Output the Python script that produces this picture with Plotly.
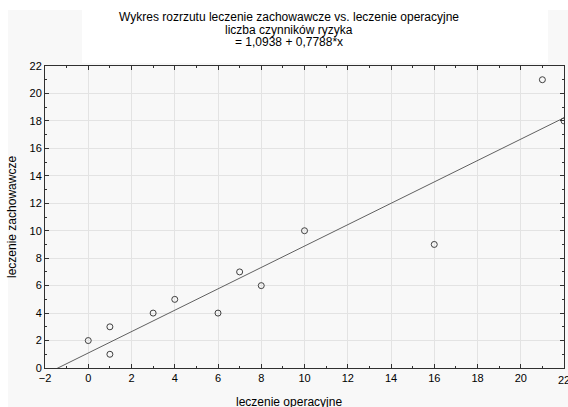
import plotly.graph_objects as go

# Data
x_oper = [0, 1, 1, 3, 4, 6, 7, 8, 10, 16, 21, 22]
y_zach = [2, 3, 1, 4, 5, 4, 7, 6, 10, 9, 21, 18]
intercept = 1.0938
slope = 0.7788
x_range = [-2, 22]
y_range = [0, 22]

W, H = 568, 407
L, R, T, B = 45, 4, 66, 39
pw, ph = W - L - R, H - T - B


def px(xp):
    return (xp - L) / pw


def py(yp):
    return (H - B - yp) / ph


line_x = [x_range[0], x_range[1]]
line_y = [intercept + slope * v for v in line_x]

fig = go.Figure()
fig.add_trace(go.Scatter(x=line_x, y=line_y, mode="lines",
                         line=dict(color="#606060", width=1), hoverinfo="skip"))
fig.add_trace(go.Scatter(x=x_oper, y=y_zach, mode="markers", cliponaxis=True,
                         marker=dict(symbol="circle-open", size=6,
                                     color="#404040", line=dict(width=1))))

axis_common = dict(
    showline=True, linecolor="#303030", linewidth=1, mirror="allticks",
    ticks="inside", ticklen=4, tickcolor="#303030", tickwidth=1,
    showgrid=True, gridcolor="#e3e3e3", gridwidth=1, zeroline=False,
    tickfont=dict(family="Arial", size=11, color="black"),
)

fig.update_xaxes(range=x_range, dtick=2, tick0=0,
                 minor=dict(dtick=1, ticks="inside", ticklen=2, tickcolor="#303030", showgrid=False),
                 **axis_common)
fig.update_yaxes(range=y_range, dtick=2, tick0=0,
                 minor=dict(dtick=1, ticks="inside", ticklen=2, tickcolor="#303030", showgrid=False),
                 **axis_common)

shapes = [
    dict(type="rect", xref="paper", yref="paper", x0=px(8), x1=px(W + 5), y0=py(10), y1=py(H + 5),
         fillcolor="#f8f8f8", line=dict(width=0), layer="below"),
    dict(type="rect", xref="paper", yref="paper", x0=px(82), x1=px(548), y0=py(10), y1=py(63),
         fillcolor="white", line=dict(width=0), layer="below"),
]

annotations = [
    dict(text="Wykres rozrzutu leczenie zachowawcze vs. leczenie operacyjne", x=px(289), y=py(17)),
    dict(text="liczba czynników ryzyka", x=px(289), y=py(30)),
    dict(text="= 1,0938 + 0,7788*x", x=px(289), y=py(42)),
    dict(text="leczenie operacyjne", x=px(289), y=py(402)),
]
ann = []
for a in annotations:
    a.update(xref="paper", yref="paper", showarrow=False, xanchor="center", yanchor="middle",
             font=dict(family="Arial", size=12, color="black"))
    ann.append(a)
ann.append(dict(text="leczenie zachowawcze", x=px(12), y=py(217), xref="paper", yref="paper",
                showarrow=False, textangle=-90, xanchor="center", yanchor="middle",
                font=dict(family="Arial", size=12, color="black")))
# last x tick label, clipped at the right edge as in the reference
ann.append(dict(text=str(x_range[1]), x=x_range[1], xref="x", y=py(380), yref="paper",
                showarrow=False, xanchor="center", yanchor="middle",
                font=dict(family="Arial", size=11, color="black")))

fig.update_layout(
    width=W, height=H, margin=dict(l=L, r=R, t=T, b=B),
    paper_bgcolor="white", plot_bgcolor="white",
    showlegend=False, shapes=shapes, annotations=ann,
)

fig.write_html("out.html")
